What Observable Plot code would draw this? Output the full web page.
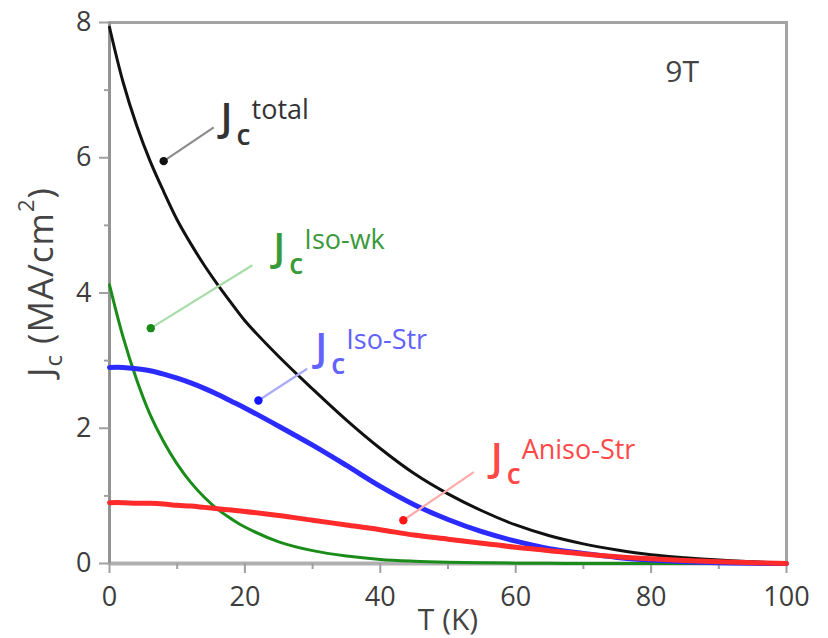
<!DOCTYPE html>
<html>
<head>
<meta charset="utf-8">
<script src="https://cdn.jsdelivr.net/npm/d3@7"></script>
<script src="https://cdn.jsdelivr.net/npm/@observablehq/plot@0.6"></script>
<style>
  body { margin: 0; background: #fff; }
  #chart svg { display: block; }
</style>
</head>
<body>
<div id="chart"></div>
<script>
// ---- Data ----
const temperature = [0, 2, 4, 6, 8, 10, 12, 14, 16, 18, 20, 25, 30, 35, 40, 45, 50, 55, 60, 65, 70, 75, 80, 85, 90, 95, 100];
const jcTotal    = [7.93, 7.12, 6.48, 5.95, 5.50, 5.08, 4.73, 4.41, 4.12, 3.85, 3.59, 3.06, 2.58, 2.12, 1.70, 1.33, 1.03, 0.78, 0.57, 0.41, 0.29, 0.20, 0.13, 0.085, 0.05, 0.025, 0.01];
const jcIsoWk    = [4.12, 3.35, 2.72, 2.20, 1.80, 1.47, 1.20, 0.98, 0.80, 0.66, 0.54, 0.32, 0.19, 0.11, 0.06, 0.035, 0.02, 0.01, 0.005, 0.002, 0, 0, 0, 0, 0, 0, 0];
const jcIsoStr   = [2.90, 2.90, 2.88, 2.85, 2.80, 2.74, 2.67, 2.59, 2.50, 2.40, 2.30, 2.03, 1.75, 1.45, 1.14, 0.87, 0.65, 0.47, 0.33, 0.22, 0.15, 0.09, 0.05, 0.025, 0.01, 0.003, 0];
const jcAnisoStr = [0.90, 0.90, 0.89, 0.89, 0.88, 0.86, 0.85, 0.83, 0.81, 0.79, 0.77, 0.71, 0.64, 0.57, 0.50, 0.42, 0.36, 0.30, 0.24, 0.19, 0.14, 0.10, 0.07, 0.045, 0.025, 0.01, 0];

const xTicks = [0, 20, 40, 60, 80, 100];
const xMinorTicks = [10, 30, 50, 70, 90];
const yTicks = [0, 2, 4, 6, 8];
const yMinorTicks = [1, 3, 5, 7];

// annotation labels (superscript text, J anchor position in data units)
const labelSup = ["total", "Iso-wk", "Iso-Str", "Aniso-Str"];
const labelT = [16.4, 24.2, 30.4, 56.3];
const labelJ = [6.80, 4.88, 3.40, 1.775];
// annotation arrows: from (T1,J1) to tip (T2,J2)
const arrowT1 = [15.4, 21.1, 29.2, 53.8];
const arrowJ1 = [6.45, 4.41, 2.88, 1.35];
const arrowT2 = [8.0, 6.1, 22.0, 43.4];
const arrowJ2 = [5.95, 3.48, 2.41, 0.64];

const fieldLabel = "9T";
const fieldT = 82.1, fieldJ = 7.44;

// ---- styles ----
const font = "'Open Sans', 'Liberation Sans', sans-serif";
const curveStyles = [
  {values: jcTotal,    stroke: "#111111", width: 3},
  {values: jcIsoWk,    stroke: "#1a8c1a", width: 3},
  {values: jcIsoStr,   stroke: "#2b2bff", width: 5},
  {values: jcAnisoStr, stroke: "#ff2b2b", width: 5}
];
const labelColors = ["#333333", "#3a9a3a", "#6262ff", "#ff4848"];
const shaftColors = ["#8c8c8c", "#a8dca8", "#aaaaff", "#ffaaaa"];
const headColors  = ["#111111", "#1a8a1a", "#1515ff", "#ff1515"];

const marks = [];
// frame and axis lines
marks.push(Plot.frame({stroke: "#a4a4a4", strokeWidth: 3}));
marks.push(Plot.ruleY([0], {stroke: "#b0b0b0", strokeWidth: 4}));
marks.push(Plot.ruleX([0], {stroke: "#939393", strokeWidth: 3}));

// ticks
marks.push(Plot.axisX({ticks: xTicks, tickSize: 10, text: null, stroke: "#a0a0a0", strokeWidth: 2}));
marks.push(Plot.axisX({ticks: xMinorTicks, tickSize: 6, text: null, stroke: "#a0a0a0", strokeWidth: 2}));
marks.push(Plot.axisY({ticks: yTicks, tickSize: 10, text: null, stroke: "#a0a0a0", strokeWidth: 2}));
marks.push(Plot.axisY({ticks: yMinorTicks, tickSize: 5, text: null, stroke: "#a0a0a0", strokeWidth: 2}));
// tick labels
marks.push(Plot.axisX({ticks: xTicks, tickSize: 0, tickPadding: 23, fontSize: 27, fill: "#3c3c3c", label: null}));
marks.push(Plot.axisY({ticks: yTicks, tickSize: 0, tickPadding: 18, fontSize: 27, fill: "#3c3c3c", label: null}));

// curves
for (const c of curveStyles) {
  const rows = temperature.map((t, i) => ({T: t, J: c.values[i]}));
  marks.push(Plot.line(rows, {x: "T", y: "J", stroke: c.stroke, strokeWidth: c.width, curve: "catmull-rom"}));
}

// annotations
labelSup.forEach((sup, i) => {
  const arrow = [{x1: arrowT1[i], y1: arrowJ1[i], x2: arrowT2[i], y2: arrowJ2[i]}];
  marks.push(Plot.link(arrow, {x1: "x1", y1: "y1", x2: "x2", y2: "y2", stroke: shaftColors[i], strokeWidth: 2.2}));
  marks.push(Plot.dot(arrow, {x: "x2", y: "y2", r: 4.2, fill: headColors[i], stroke: null}));
  const anchor = [{T: labelT[i], J: labelJ[i]}];
  marks.push(Plot.text(anchor, {x: "T", y: "J", text: () => "J", textAnchor: "start", lineAnchor: "top", fontSize: 40, fontWeight: 600, fill: labelColors[i], fontFamily: font}));
  marks.push(Plot.text(anchor, {x: "T", y: "J", text: () => "c", textAnchor: "start", lineAnchor: "top", dx: 16, dy: 21, fontSize: 28, fontWeight: 600, fill: labelColors[i], fontFamily: font}));
  marks.push(Plot.text(anchor, {x: "T", y: "J", text: () => sup, textAnchor: "start", lineAnchor: "top", dx: 31, dy: -4, fontSize: 27, fontWeight: 500, fill: labelColors[i], fontFamily: font}));
});

marks.push(Plot.text([{T: fieldT, J: fieldJ}], {x: "T", y: "J", text: () => fieldLabel, textAnchor: "start", lineAnchor: "top", fontSize: 30, fill: "#444", fontFamily: font}));

// x axis title
marks.push(Plot.text([0], {frameAnchor: "bottom", text: () => "T (K)", dy: 45, lineAnchor: "top", fontSize: 30, fill: "#444", fontFamily: font}));

const svg = Plot.plot({
  width: 828,
  height: 638,
  marginLeft: 109,
  marginRight: 42,
  marginTop: 22,
  marginBottom: 75,
  style: {fontFamily: font, background: "#fff", overflow: "visible"},
  x: {domain: [0, 100], axis: null},
  y: {domain: [0, 8], axis: null},
  marks
});

// y axis title with subscript and superscript
const yl = d3.select(svg).append("text")
  .attr("transform", "translate(53,282) rotate(-90)")
  .attr("text-anchor", "middle")
  .attr("font-family", font)
  .attr("font-size", 35)
  .attr("letter-spacing", 1)
  .attr("fill", "#444");
yl.append("tspan").text("J");
yl.append("tspan").attr("font-size", 24).attr("dy", 9).text("c");
yl.append("tspan").attr("dy", -9).text(" (MA/cm");
yl.append("tspan").attr("font-size", 22).attr("dy", -19).text("2");
yl.append("tspan").attr("dy", 19).text(")");

document.getElementById("chart").appendChild(svg);
</script>
</body>
</html>
